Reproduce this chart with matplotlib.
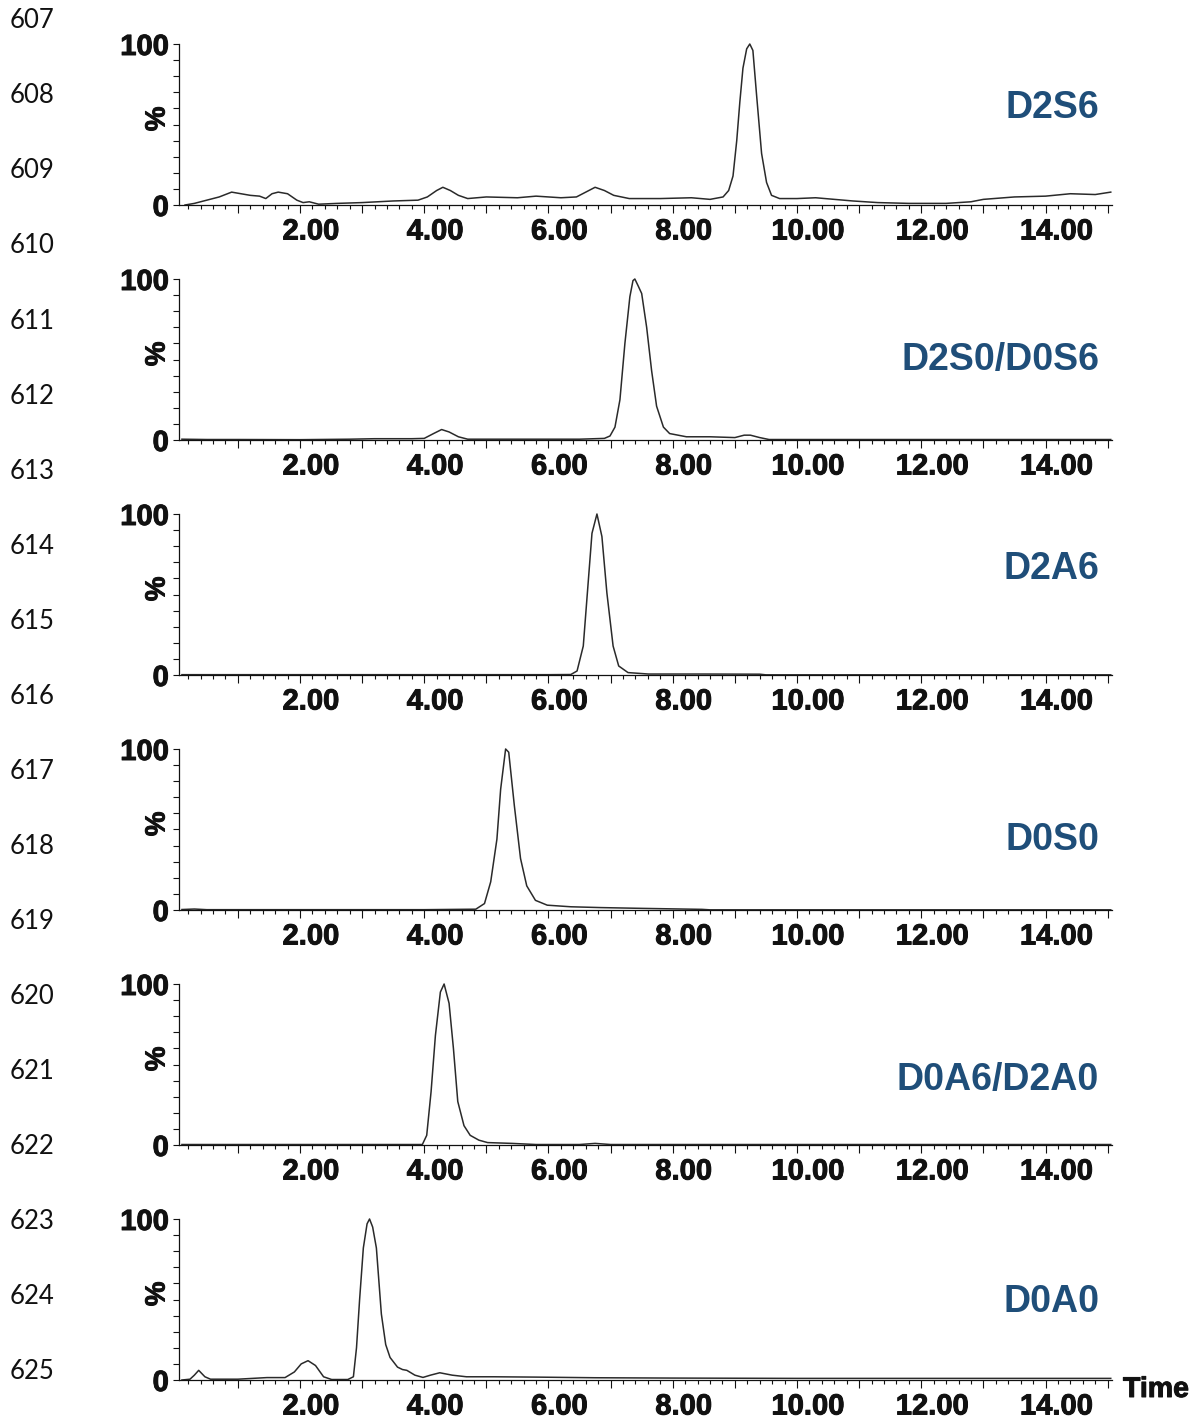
import matplotlib
matplotlib.use("Agg")
import matplotlib.pyplot as plt
import matplotlib.patheffects as pe
from matplotlib.ticker import FixedLocator, MultipleLocator, FuncFormatter
from matplotlib.transforms import ScaledTranslation

# ---------------- data (retention time in min, relative intensity in %) ----------------
d2s6_time = [0.15, 0.3, 0.5, 0.7, 0.9, 1.05, 1.2, 1.35, 1.45, 1.55, 1.65, 1.8, 1.95, 2.05, 2.15,
             2.3, 2.6, 3.0, 3.5, 3.9, 4.05, 4.2, 4.3, 4.42, 4.55, 4.7, 5.0, 5.5, 5.8, 6.2, 6.45,
             6.6, 6.75, 6.9, 7.05, 7.3, 7.8, 8.3, 8.6, 8.81, 8.9, 8.97, 9.03, 9.08, 9.13, 9.19,
             9.24, 9.29, 9.35, 9.43, 9.51, 9.59, 9.72, 10.0, 10.3, 10.6, 10.9, 11.3, 11.8, 12.4,
             12.8, 13.0, 13.5, 14.0, 14.4, 14.8, 15.05]
d2s6_pct = [0, 1, 3, 5, 8, 7, 6, 5.5, 4, 7, 8, 7, 3, 1.5, 2,
            0.5, 1, 1.5, 2.5, 3, 5, 9, 11, 9, 6, 4, 5, 4.5, 5.5, 4.5, 5,
            8, 11, 9, 6, 4, 4, 4.5, 3.5, 5, 9, 18, 40, 64, 85, 97,
            100, 96, 68, 32, 14, 6, 4, 4, 4.5, 3.5, 2.5, 1.5, 1, 1,
            2, 3.5, 5, 5.5, 7, 6.5, 8]

d2s0_time = [0.1, 0.5, 1.0, 2.0, 2.8, 3.2, 3.8, 4.0, 4.15, 4.28, 4.4, 4.55, 4.7, 5.0, 5.5, 6.0,
             6.5, 6.9, 6.99, 7.07, 7.15, 7.23, 7.31, 7.36, 7.39, 7.44, 7.50, 7.58, 7.66, 7.74,
             7.85, 7.95, 8.22, 8.6, 9.0, 9.15, 9.25, 9.4, 9.55, 10.0, 11.0, 12.0, 13.0, 14.0, 15.05]
d2s0_pct = [0.5, 0.3, 0.3, 0.2, 0.5, 0.8, 0.8, 1, 4, 6.5, 5, 2, 0.5, 0.5, 0.5, 0.5,
            0.5, 1, 2.5, 8, 25, 60, 89, 99, 100, 96, 91, 70, 43, 21,
            8, 4, 2, 2, 1.5, 3, 3, 1.5, 0.3, 0.3, 0.3, 0.3, 0.3, 0.3, 0.3]

d2a6_time = [0.1, 1.0, 2.0, 3.0, 4.0, 5.0, 6.0, 6.36, 6.46, 6.56, 6.63, 6.70, 6.78, 6.86, 6.94,
             7.04, 7.13, 7.28, 7.61, 8.5, 9.4, 9.5, 11.0, 13.0, 15.05]
d2a6_pct = [0.2, 0.2, 0.2, 0.2, 0.2, 0.2, 0.2, 0.3, 2.5, 18, 53, 88, 100, 86, 51,
            18, 5.6, 1.5, 0.6, 0.6, 0.5, 0.1, 0.1, 0.1, 0.1]

d0s0_time = [0.1, 0.3, 0.5, 1.0, 2.0, 3.0, 4.0, 4.83, 4.97, 5.07, 5.17, 5.23, 5.31, 5.36, 5.45,
             5.55, 5.65, 5.79, 5.98, 6.36, 6.84, 7.52, 8.47, 8.6, 10.0, 12.0, 14.0, 15.05]
d0s0_pct = [0.3, 0.6, 0.2, 0.2, 0.2, 0.2, 0.2, 0.5, 4, 17.5, 44, 75, 100, 98, 65,
            32, 15, 6, 3, 2, 1.5, 1, 0.4, 0.1, 0.1, 0.1, 0.1, 0.1]

d0a6_time = [0.1, 1.0, 2.0, 3.0, 3.97, 4.04, 4.11, 4.18, 4.26, 4.32, 4.40, 4.47, 4.54, 4.64,
             4.74, 4.88, 5.02, 5.41, 5.8, 6.5, 6.75, 7.0, 9.0, 11.0, 13.0, 15.05]
d0a6_pct = [0.3, 0.3, 0.3, 0.3, 0.3, 6, 33, 68, 95, 100, 88, 60, 27, 12,
            6, 3, 1.5, 1, 0.3, 0.3, 1, 0.3, 0.3, 0.3, 0.3, 0.3]

d0a0_time = [0.1, 0.23, 0.3, 0.37, 0.47, 0.56, 1.0, 1.47, 1.76, 1.91, 2.02, 2.13, 2.25, 2.38,
             2.51, 2.77, 2.86, 2.91, 2.96, 3.02, 3.08, 3.12, 3.17, 3.23, 3.31, 3.38, 3.45,
             3.57, 3.65, 3.72, 3.85, 3.98, 4.1, 4.25, 4.45, 4.68, 5.12, 5.79, 6.75, 8.0,
             10.0, 12.0, 14.0, 15.05]
d0a0_pct = [0, 0.5, 3, 6, 2, 0.5, 0.5, 1.5, 1.5, 5, 10, 12, 9, 2,
            0.3, 0.3, 2, 20, 50, 82, 97, 100, 95, 82, 41, 22, 14,
            8, 6.5, 6, 3, 1.6, 3, 4.5, 3, 2, 2, 1.8, 1.4, 1.2,
            1, 1, 1, 1]

traces = [(d2s6_time, d2s6_pct), (d2s0_time, d2s0_pct), (d2a6_time, d2a6_pct),
          (d0s0_time, d0s0_pct), (d0a6_time, d0a6_pct), (d0a0_time, d0a0_pct)]
panel_labels = ["D2S6", "D2S0/D0S6", "D2A6", "D0S0", "D0A6/D2A0", "D0A0"]
line_numbers = list(range(607, 626))
x_major_ticks = list(range(1, 16))
y_major_ticks = [0, 100]

# ---------------- layout ----------------
W, H = 1191, 1423
fig = plt.figure(figsize=(W / 100, H / 100), dpi=100)

BOLD = "Liberation Sans"
INK = "#111111"
label_color = "#1f4e79"
heavy = [pe.withStroke(linewidth=0.7, foreground=INK)]
ax_left, ax_right = 179, 1112
zero_px = [205, 440, 675, 910, 1145, 1380]
panel_h = 161
label_y = [108, 360, 569, 840, 1080, 1302]

def fx(px):
    return px / W

def fy(py):
    return 1 - py / H

for i, ((t, p), name) in enumerate(zip(traces, panel_labels)):
    yb = zero_px[i]
    ax = fig.add_axes([fx(ax_left), fy(yb), fx(ax_right - ax_left), panel_h / H])
    ax.plot(t, p, color="#2a2a2a", lw=1.1, clip_on=False, solid_joinstyle="round")
    ax.set_xlim(0.053, 15.07)
    ax.set_ylim(0, 100)
    for s in ("top", "right"):
        ax.spines[s].set_visible(False)
    for s in ("left", "bottom"):
        ax.spines[s].set_linewidth(0.9)
        ax.spines[s].set_color(INK)

    ax.xaxis.set_major_locator(FixedLocator(x_major_ticks))
    ax.xaxis.set_major_formatter(FuncFormatter(lambda v, pos: f"{v:.2f}" if int(round(v)) % 2 == 0 else ""))
    ax.xaxis.set_minor_locator(MultipleLocator(0.2))
    ax.yaxis.set_major_locator(FixedLocator(y_major_ticks))
    ax.yaxis.set_minor_locator(MultipleLocator(10))

    ax.tick_params(axis="x", which="major", direction="out", length=5.5, width=0.8,
                   color=INK, pad=3.5, labelsize=21, labelcolor=INK)
    ax.tick_params(axis="x", which="minor", direction="out", length=2.8, width=0.8, color=INK)
    ax.tick_params(axis="y", which="both", direction="out", length=4.3, width=0.8,
                   color=INK, pad=3.0, labelsize=21, labelcolor=INK)

    for lab in ax.get_xticklabels() + ax.get_yticklabels():
        lab.set_fontfamily(BOLD)
        lab.set_fontweight("bold")
        lab.set_path_effects(heavy)
    off = ScaledTranslation(11 / 100, 0, fig.dpi_scale_trans)
    for lab in ax.get_xticklabels():
        lab.set_transform(lab.get_transform() + off)

    ax.text(-0.023, 0.535, "%", transform=ax.transAxes, rotation=90, ha="center", va="center",
            fontsize=20, fontweight="bold", family=BOLD, color=INK, path_effects=heavy)

    fig.text(fx(1099), fy(label_y[i]), name, ha="right", va="center", fontsize=27,
             fontweight="bold", family=BOLD, color=label_color)

fig.text(fx(1123), fy(1390), "Time", ha="left", va="center", fontsize=20.5,
         fontweight="bold", family=BOLD, color=INK, path_effects=heavy)

for k, n in enumerate(line_numbers):
    fig.text(fx(10), fy(20.8 + 75.06 * k), str(n), ha="left", va="center", fontsize=18.5,
             family="Lato", color=INK)

fig.savefig("out.png", dpi=100)
